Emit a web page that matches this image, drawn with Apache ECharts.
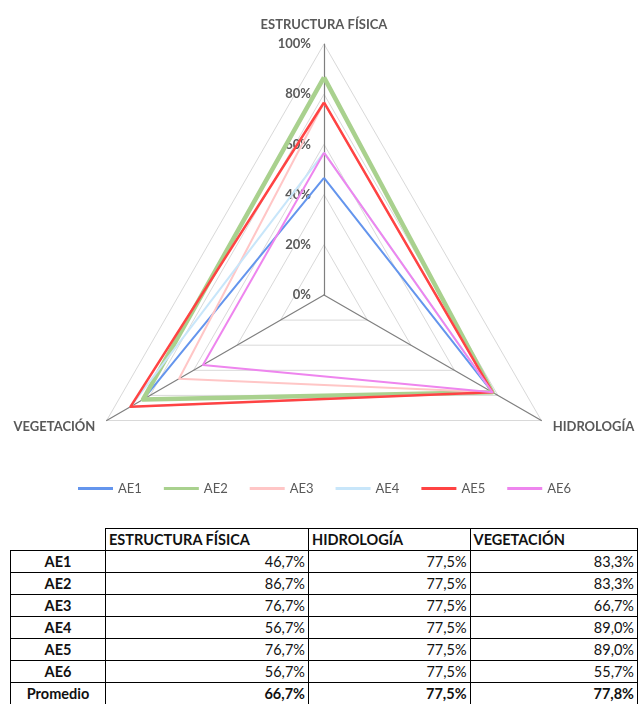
<!DOCTYPE html>
<html>
<head>
<meta charset="utf-8">
<script src="https://cdn.jsdelivr.net/npm/echarts@6/dist/echarts.min.js"></script>
<style>
  html, body { margin: 0; padding: 0; background: #fff; }
  #wrap { position: relative; width: 638px; height: 704px; overflow: hidden; }
  #chart { position: absolute; left: 0; top: 0; width: 638px; height: 515px; }
  #tbl {
    position: absolute; left: 10px; top: 528px;
    border-collapse: collapse; table-layout: fixed;
    font-family: Lato, "Open Sans", sans-serif; font-size: 14.5px; color: #111;
  }
  #tbl td { border: 1px solid #000; height: 21px; padding: 0 3px; line-height: 21px; white-space: nowrap; overflow: hidden; }
  #tbl td.blank { border: none; border-right: 1px solid #000; }
  #tbl td.head { font-weight: bold; text-align: left; }
  #tbl td.row { font-weight: bold; text-align: center; }
  #tbl td.num { text-align: right; }
  #tbl tr.avg td { font-weight: bold; }
</style>
</head>
<body>
<div id="wrap">
  <div id="chart"></div>
  <table id="tbl"></table>
</div>
<script>
// Dimensions evaluated for each area
const categories = ['ESTRUCTURA FÍSICA', 'HIDROLOGÍA', 'VEGETACIÓN'];
const areaNames = ['AE1', 'AE2', 'AE3', 'AE4', 'AE5', 'AE6'];
// Percent scores per area, one array per dimension
const estructura = [46.7, 86.7, 76.7, 56.7, 76.7, 56.7];
const hidrologia = [77.5, 77.5, 77.5, 77.5, 77.5, 77.5];
const vegetacion = [83.3, 83.3, 66.7, 89.0, 89.0, 55.7];
const tickLabels = ['0%', '20%', '40%', '60%', '80%', '100%'];
const averageLabel = 'Promedio';

const columns = [estructura, hidrologia, vegetacion];
const lineColors = ['#6495ed', '#a9d18e', '#ffc6c6', '#c8e6fa', '#ff4343', '#ee85ee'];
const lineWidths = [2, 4.5, 2, 2, 2.5, 2];

// Radar axes run counter-clockwise from the top: estructura, vegetación, hidrología
const radarOrder = [0, 2, 1];

const font = 'Lato, "Open Sans", sans-serif';
const grey = '#595959';

const indicators = radarOrder.map(function (ci, k) {
  const ind = { name: categories[ci], min: 0, max: 100 };
  if (k === 0) {
    ind.axisLabel = {
      show: true, color: grey, fontSize: 13, fontWeight: 'bold', fontFamily: font, margin: 13,
      formatter: function (v) { return tickLabels[Math.round(v / 20)]; }
    };
  }
  return ind;
});

const series = areaNames.map(function (name, i) {
  return {
    type: 'radar',
    name: name,
    symbol: 'none',
    silent: true,
    lineStyle: { color: lineColors[i], width: lineWidths[i], opacity: 1 },
    itemStyle: { color: lineColors[i] },
    data: [{ name: name, value: radarOrder.map(function (ci) { return columns[ci][i]; }) }]
  };
});

const chart = echarts.init(document.getElementById('chart'), null, { renderer: 'canvas' });
chart.setOption({
  animation: false,
  backgroundColor: '#fff',
  legend: {
    data: areaNames,
    top: 477,
    left: 73,
    icon: 'rect',
    itemWidth: 35,
    itemHeight: 3,
    itemGap: 22,
    textStyle: { color: grey, fontSize: 13, fontFamily: font },
    selectedMode: false
  },
  radar: {
    center: [324, 295],
    radius: 251,
    startAngle: 90,
    splitNumber: 5,
    shape: 'polygon',
    indicator: indicators,
    axisName: { color: grey, fontSize: 13, fontWeight: 'bold', fontFamily: font },
    nameGap: 13,
    axisLine: { lineStyle: { color: '#7f7f7f', width: 1.2 } },
    axisTick: { show: false },
    axisLabel: { show: false },
    splitLine: { lineStyle: { color: '#d9d9d9', width: 1 } },
    splitArea: { show: false }
  },
  series: series
});

// Summary table built from the same arrays
function fmt(v) { return v.toFixed(1).replace('.', ',') + '%'; }
function avg(arr) { return arr.reduce(function (a, b) { return a + b; }, 0) / arr.length; }

const tbl = document.getElementById('tbl');
const colWidths = [96, 205, 164, 170];
let html = '<colgroup>' + colWidths.map(function (w) { return '<col style="width:' + w + 'px">'; }).join('') + '</colgroup>';
html += '<tr><td class="blank"></td>' + categories.map(function (c) { return '<td class="head">' + c + '</td>'; }).join('') + '</tr>';
areaNames.forEach(function (n, i) {
  html += '<tr><td class="row">' + n + '</td>' + columns.map(function (col) { return '<td class="num">' + fmt(col[i]) + '</td>'; }).join('') + '</tr>';
});
html += '<tr class="avg"><td class="row">' + averageLabel + '</td>' + columns.map(function (col) { return '<td class="num">' + fmt(avg(col)) + '</td>'; }).join('') + '</tr>';
tbl.innerHTML = html;
</script>
</body>
</html>
